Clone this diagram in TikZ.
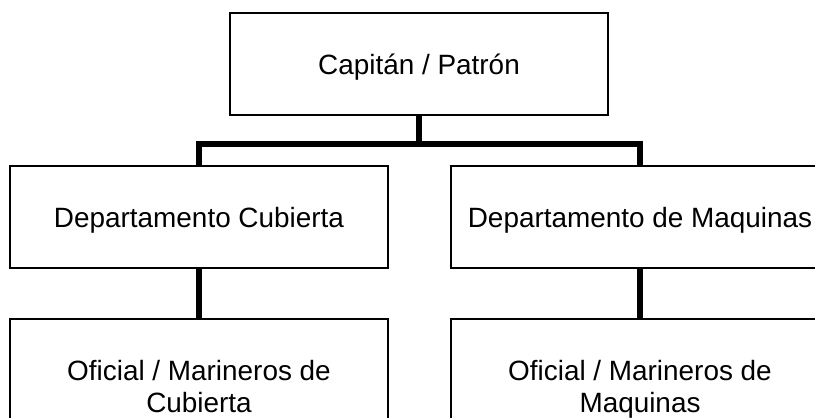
\documentclass[tikz,border=0pt]{standalone}
\usepackage{fontspec}
\setmainfont{Liberation Sans}
\begin{document}
\begin{tikzpicture}[x=1pt,y=-1pt,
  box/.style={draw=black, line width=1.8pt, minimum width=378pt, minimum height=102pt,
    inner sep=0pt, font=\fontsize{27.9}{32}\selectfont, text height=20pt, text depth=0pt, line join=miter},
  lowbox/.style={box, minimum height=134pt, align=center, text height=52pt, text depth=0pt},
  conn/.style={draw=black, line width=6pt, line join=miter}]
\useasboundingbox (0,0) rectangle (815,418);
\clip (0,0) rectangle (815,418);
\node[box] (top) at (419,64) {Capitán / Patrón};
\node[box] (dl) at (199,217) {Departamento Cubierta};
\node[box] (dr) at (640,217) {Departamento de Maquinas};
\node[lowbox] (ol) at (199,386) {Oficial / Marineros de\\Cubierta};
\node[lowbox] (or) at (640,386) {Oficial / Marineros de\\Maquinas};
\coordinate (j) at (419,143.5);
\draw[conn] (top.south) -- (j);
\draw[conn] (dl.north) -- (dl.north |- j) -- (dr.north |- j) -- (dr.north);
\draw[conn] (dl.south) -- (ol.north);
\draw[conn] (dr.south) -- (or.north);
\end{tikzpicture}
\end{document}
